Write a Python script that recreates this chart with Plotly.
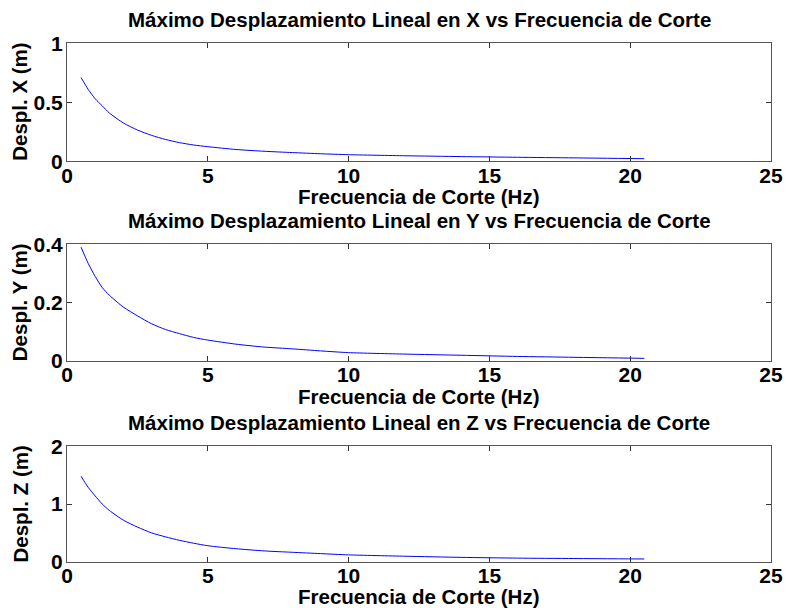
import plotly.graph_objects as go

# Cut-off frequency (Hz)
freq = [0.5, 0.75, 1.0, 1.25, 1.5, 2.0, 2.5, 3.0, 3.5, 4.0, 4.5, 5.0,
        6.0, 7.0, 8.0, 9.0, 10.0, 12.0, 14.0, 16.0, 18.0, 20.5]

# Maximum linear displacement (m) per axis
disp_x = [0.71, 0.61, 0.53, 0.47, 0.41, 0.325, 0.265, 0.22, 0.185, 0.158, 0.138, 0.124,
          0.100, 0.085, 0.074, 0.064, 0.056, 0.047, 0.040, 0.034, 0.029, 0.022]
disp_y = [0.39, 0.335, 0.29, 0.252, 0.226, 0.185, 0.155, 0.128, 0.108, 0.094, 0.081, 0.072,
          0.058, 0.048, 0.042, 0.035, 0.029, 0.024, 0.020, 0.016, 0.013, 0.0095]
disp_z = [1.48, 1.29, 1.14, 1.00, 0.89, 0.72, 0.60, 0.50, 0.43, 0.37, 0.32, 0.277,
          0.225, 0.187, 0.163, 0.14, 0.118, 0.095, 0.075, 0.062, 0.055, 0.047]

titles = ["Máximo Desplazamiento Lineal en X vs Frecuencia de Corte",
          "Máximo Desplazamiento Lineal en Y vs Frecuencia de Corte",
          "Máximo Desplazamiento Lineal en Z vs Frecuencia de Corte"]
ylabels = ["Despl. X (m)", "Despl. Y (m)", "Despl. Z (m)"]
xlabel = "Frecuencia de Corte (Hz)"
yranges = [[0, 1], [0, 0.4], [0, 2]]
ytickvals = [[0, 0.5, 1], [0, 0.2, 0.4], [0, 1, 2]]
xtickvals = [0, 5, 10, 15, 20, 25]

W, H = 787, 610
# pixel boxes of the three panels (top, bottom)
panels = [(43.3, 161.3), (244.3, 361.1), (446.3, 561.7)]
x0px, x1px = 67.0, 771.0

FONT = "Liberation Sans, Arial, sans-serif"
AX = "#555555"
TICKFONT = dict(family=FONT, size=21, color="black", weight="bold")

fig = go.Figure()
series = [disp_x, disp_y, disp_z]
for i, vals in enumerate(series):
    sfx = "" if i == 0 else str(i + 1)
    fig.add_trace(go.Scatter(x=freq, y=vals, mode="lines",
                             line=dict(color="#0000ff", width=1, shape="spline",
                                       smoothing=0.6),
                             xaxis="x" + sfx, yaxis="y" + sfx,
                             showlegend=False, hoverinfo="skip"))

layout = dict(width=W, height=H, margin=dict(l=0, r=0, t=0, b=0, autoexpand=False),
              paper_bgcolor="white", plot_bgcolor="white",
              font=dict(family=FONT, color="black"))
annotations = []
for i in range(3):
    sfx = "" if i == 0 else str(i + 1)
    top, bot = panels[i]
    ydom = [1 - bot / H, 1 - top / H]
    layout["xaxis" + sfx] = dict(
        domain=[x0px / W, x1px / W], range=[0, 25], tickvals=xtickvals,
        ticks="inside", ticklen=5, tickcolor="#333", mirror="ticks",
        showline=True, linecolor=AX, linewidth=1, showgrid=False, zeroline=False,
        tickfont=TICKFONT, automargin=False,
        anchor="y" + sfx, ticklabelstandoff=-5)
    layout["yaxis" + sfx] = dict(
        domain=ydom, range=yranges[i], tickvals=ytickvals[i],
        ticks="inside", ticklen=5, tickcolor="#333", mirror="ticks",
        showline=True, linecolor=AX, linewidth=1, showgrid=False, zeroline=False,
        tickfont=TICKFONT, automargin=False,
        anchor="x" + sfx, ticklabelstandoff=-1)
    annotations.append(dict(text="<b>%s</b>" % titles[i], x=(x0px + x1px) / 2 / W,
                            y=1 - (top - 24) / H, xref="paper", yref="paper",
                            xanchor="center", yanchor="middle", showarrow=False,
                            font=dict(family=FONT, size=20.5, color="black")))
    annotations.append(dict(text="<b>%s</b>" % xlabel, x=(x0px + x1px) / 2 / W,
                            y=1 - (bot + 35) / H, xref="paper", yref="paper",
                            xanchor="center", yanchor="middle", showarrow=False,
                            font=dict(family=FONT, size=20.5, color="black")))
    annotations.append(dict(text="<b>%s</b>" % ylabels[i], x=19.5 / W,
                            y=1 - (top + bot) / 2 / H, xref="paper", yref="paper",
                            xanchor="center", yanchor="middle", showarrow=False,
                            textangle=-90,
                            font=dict(family=FONT, size=20.5, color="black")))
layout["annotations"] = annotations
fig.update_layout(**layout)
fig.write_html("out.html")
